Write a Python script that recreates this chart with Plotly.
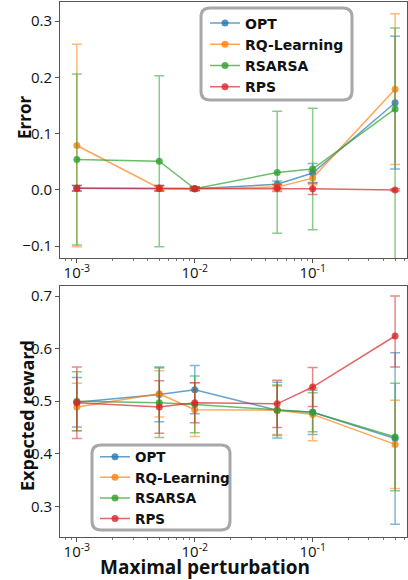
import plotly.graph_objects as go

# ---- data ----
x_pert = [0.001, 0.005, 0.01, 0.05, 0.1, 0.5]
methods = ["OPT", "RQ-Learning", "RSARSA", "RPS"]

# Error (top panel)
err_opt = [0.003, 0.003, 0.002, 0.010, 0.030, 0.155]
err_opt_up = [0.005, 0.005, 0.003, 0.006, 0.017, 0.118]
err_opt_dn = [0.005, 0.005, 0.003, 0.006, 0.017, 0.118]
err_rq = [0.079, 0.003, 0.002, 0.005, 0.021, 0.179]
err_rq_up = [0.180, 0.004, 0.003, 0.005, 0.012, 0.134]
err_rq_dn = [0.180, 0.004, 0.003, 0.005, 0.012, 0.134]
err_rsarsa = [0.054, 0.051, 0.002, 0.031, 0.037, 0.144]
err_rsarsa_up = [0.152, 0.152, 0.003, 0.109, 0.108, 0.144]
err_rsarsa_dn = [0.152, 0.152, 0.003, 0.108, 0.108, 0.270]
err_rps = [0.003, 0.003, 0.002, 0.003, 0.002, 0.000]
err_rps_up = [0.005, 0.005, 0.003, 0.006, 0.010, 0.002]
err_rps_dn = [0.005, 0.005, 0.003, 0.006, 0.010, 0.002]

# Expected reward (bottom panel)
rew_opt = [0.498, 0.513, 0.522, 0.483, 0.479, 0.429]
rew_opt_up = [0.047, 0.052, 0.046, 0.053, 0.042, 0.163]
rew_opt_dn = [0.047, 0.052, 0.046, 0.053, 0.042, 0.163]
rew_rq = [0.489, 0.514, 0.484, 0.483, 0.475, 0.418]
rew_rq_up = [0.045, 0.044, 0.051, 0.046, 0.050, 0.084]
rew_rq_dn = [0.045, 0.044, 0.051, 0.046, 0.050, 0.084]
rew_rsarsa = [0.500, 0.497, 0.494, 0.483, 0.479, 0.432]
rew_rsarsa_up = [0.056, 0.066, 0.054, 0.048, 0.037, 0.102]
rew_rsarsa_dn = [0.056, 0.066, 0.054, 0.048, 0.037, 0.102]
rew_rps = [0.497, 0.489, 0.497, 0.495, 0.527, 0.624]
rew_rps_up = [0.068, 0.050, 0.038, 0.045, 0.037, 0.076]
rew_rps_dn = [0.068, 0.050, 0.038, 0.045, 0.037, 0.059]

x_ticks = [0.001, 0.01, 0.1]
x_ticktext = ["10<sup>-3</sup>", "10<sup>-2</sup>", "10<sup>-1</sup>"]
err_ticks = [-0.1, 0.0, 0.1, 0.2, 0.3]
rew_ticks = [0.3, 0.4, 0.5, 0.6, 0.7]

colors = ["31,119,180", "255,127,14", "44,160,44", "214,39,40"]

top_series = [
    (err_opt, err_opt_up, err_opt_dn),
    (err_rq, err_rq_up, err_rq_dn),
    (err_rsarsa, err_rsarsa_up, err_rsarsa_dn),
    (err_rps, err_rps_up, err_rps_dn),
]
bot_series = [
    (rew_opt, rew_opt_up, rew_opt_dn),
    (rew_rq, rew_rq_up, rew_rq_dn),
    (rew_rsarsa, rew_rsarsa_up, rew_rsarsa_dn),
    (rew_rps, rew_rps_up, rew_rps_dn),
]

FONT = "Open Sans"
LFONT = "DejaVu Sans"
fig = go.Figure()

def add(series, xa, ya, legend):
    for name, c, (y, up, dn) in zip(methods, colors, series):
        fig.add_trace(go.Scatter(
            x=x_pert, y=y, name=name, mode="lines+markers",
            xaxis=xa, yaxis=ya, legend=legend,
            line=dict(color=f"rgba({c},0.7)", width=1.5),
            marker=dict(color=f"rgba({c},0.8)", size=7),
            error_y=dict(type="data", symmetric=False, array=up, arrayminus=dn,
                         color=f"rgba({c},0.55)", thickness=1.5, width=5),
        ))

add(top_series, "x", "y", "legend")
add(bot_series, "x2", "y2", "legend2")

minor_vals = [m * 10 ** e for e in (-4, -3, -2, -1) for m in range(2, 10)]

def xaxis_cfg(anchor):
    return dict(type="log", range=[-3.143, -0.20], anchor=anchor,
                tickvals=x_ticks, ticktext=x_ticktext, ticks="outside", ticklen=4,
                ticklabelstandoff=-3,
                tickcolor="#555", showline=True, linecolor="#555", linewidth=1,
                mirror=True, showgrid=False, zeroline=False,
                tickfont=dict(family=FONT, size=15, color="#111"),
                minor=dict(tickvals=minor_vals, ticks="outside", ticklen=2, tickcolor="#777"))

def yaxis_cfg(rng, dom, anchor, tv):
    return dict(range=rng, domain=dom, anchor=anchor, tickvals=tv,
                tickformat=".1f", ticks="outside", ticklen=4, tickcolor="#555",
                showline=True, linecolor="#555", linewidth=1, mirror=True,
                showgrid=False, zeroline=False,
                tickfont=dict(family=FONT, size=15, color="#111"))

W, H = 408, 580
L, R, T, B = 60, 1, 2, 43
PW, PH = W - L - R, H - T - B

def px(xp):
    return (xp - L) / PW

def py(yp):
    return (H - B - yp) / PH

def rrect(x0, y0, x1, y1, r=9):
    X0, X1 = px(x0), px(x1)
    Y0, Y1 = py(y0), py(y1)
    rx, ry = r / PW, r / PH
    return (f"M {X0+rx},{Y0} L {X1-rx},{Y0} Q {X1},{Y0} {X1},{Y0-ry} "
            f"L {X1},{Y1+ry} Q {X1},{Y1} {X1-rx},{Y1} L {X0+rx},{Y1} "
            f"Q {X0},{Y1} {X0},{Y1+ry} L {X0},{Y0-ry} Q {X0},{Y0} {X0+rx},{Y0} Z")

shapes = [
    dict(type="path", xref="paper", yref="paper", path=rrect(201, 8, 352, 100),
         fillcolor="white", line=dict(color="#a8a8a8", width=3), layer="above"),
    dict(type="path", xref="paper", yref="paper", path=rrect(92, 445, 230, 530),
         fillcolor="white", line=dict(color="#a8a8a8", width=3), layer="above"),
]

fig.update_layout(
    width=W, height=H, margin=dict(l=L, r=R, t=T, b=B),
    paper_bgcolor="white", plot_bgcolor="white",
    xaxis=xaxis_cfg("y"), xaxis2=xaxis_cfg("y2"),
    yaxis=yaxis_cfg([-0.121, 0.334], [py(258), 1], "x", err_ticks),
    yaxis2=yaxis_cfg([0.242, 0.719], [0, py(286)], "x2", rew_ticks),
    shapes=shapes,
    legend=dict(x=px(205), y=py(7.5), xanchor="left", yanchor="top",
                bgcolor="rgba(0,0,0,0)", borderwidth=0,
                font=dict(family=LFONT, size=14, color="#111", weight="bold"),
                tracegroupgap=0),
    legend2=dict(x=px(95), y=py(441.5), xanchor="left", yanchor="top",
                 bgcolor="rgba(0,0,0,0)", borderwidth=0,
                 font=dict(family=LFONT, size=13.5, color="#111", weight="bold"),
                 tracegroupgap=0),
    annotations=[
        dict(text="<b>Error</b>", xref="paper", yref="paper", x=px(24), y=py(118),
             xanchor="center", yanchor="middle",
             textangle=-90, showarrow=False, font=dict(family=FONT, size=17, color="#111")),
        dict(text="<b>Expected reward</b>", xref="paper", yref="paper", x=px(27), y=py(416),
             xanchor="center", yanchor="middle",
             textangle=-90, showarrow=False, font=dict(family=FONT, size=18, color="#111")),
        dict(text="<b>Maximal perturbation</b>", xref="paper", yref="paper", x=px(205), y=py(567),
             xanchor="center", yanchor="middle",
             showarrow=False, font=dict(family=FONT, size=19, color="#111")),
    ],
)

fig.write_html("out.html", config={"displayModeBar": False},
               post_script="document.body.style.margin='0';document.body.style.overflow='hidden';")
